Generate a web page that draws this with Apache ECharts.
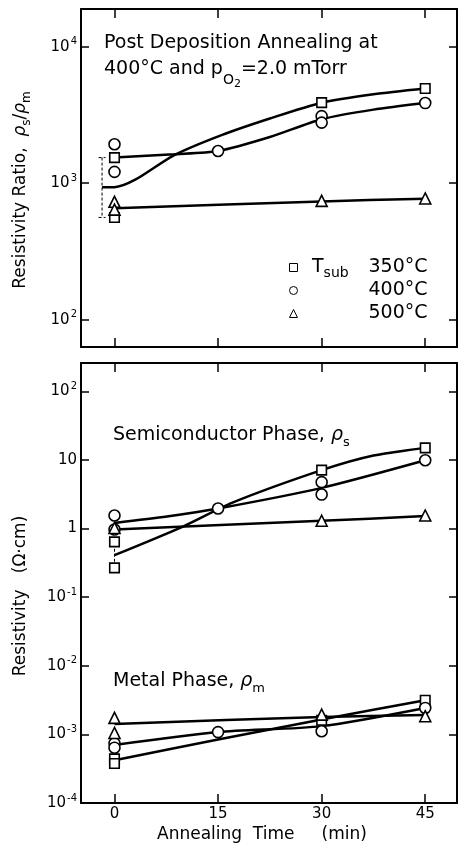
<!DOCTYPE html>
<html>
<head>
<meta charset="utf-8">
<script src="https://cdn.jsdelivr.net/npm/echarts@6/dist/echarts.min.js"></script>
<style>
  html, body { margin: 0; padding: 0; background: #fff; }
  #chart { width: 458px; height: 848px; }
</style>
</head>
<body>
<div id="chart"></div>
<script>
const FONT = '"DejaVu Sans", sans-serif'

// x ticks, annealing time in min
const timeTicks = [0, 15, 30, 45]

// top panel: resistivity ratio rho_s/rho_m, points as [time, ratio]
const ratio350 = [[0, 1540], [0, 561], [30, 3890], [45, 4940]]
const ratio400 = [[0, 1930], [0, 1210], [15, 1722], [30, 3100], [30, 2780], [45, 3865]]
const ratio500 = [[0, 730], [0, 640], [30, 742], [45, 773]]
// drawn curves
const ratio350Curve = [[-1.8, 935], [0, 935], [3, 1060], [8.6, 1600], [15.5, 2250], [22.5, 2980], [30, 3890], [37.5, 4480], [45, 4940]]
const ratio400Curve = [[0, 1540], [8.6, 1630], [15, 1722], [22.5, 2180], [30, 2940], [37.5, 3460], [45, 3865]]
const ratio500Curve = [[0, 655], [30, 735], [45, 770]]
// dashed spread bar of the 350 C points at t = 0
const ratioBar = [
  [[-2.3, 1540], [-1.3, 1540]],
  [[-1.8, 1540], [-1.8, 561]],
  [[-2.3, 561], [-1.3, 561]]
]

// bottom panel: semiconductor phase rho_s (ohm cm)
const semi350 = [[0, 0.64], [0, 0.267], [30, 7.1], [45, 15]]
const semi400 = [[0, 1.55], [0, 0.97], [15, 1.96], [30, 4.75], [30, 3.13], [45, 9.9]]
const semi500 = [[0, 1.02], [30, 1.3], [45, 1.55]]
const semi350Curve = [[0, 0.41], [10, 1.08], [17, 2.37], [30, 7.1], [37.5, 11.6], [45, 15]]
const semi400Curve = [[0, 1.21], [7.6, 1.5], [15, 1.96], [30, 3.92], [45, 9.9]]
const semi500Curve = [[0, 0.97], [30, 1.3], [45, 1.52]]
const semiBar = [[[0, 0.6], [0, 0.28]]]

// bottom panel: metal phase rho_m (ohm cm)
const metal350 = [[0, 4.4e-4], [0, 3.76e-4], [30, 1.61e-3], [45, 3.15e-3]]
const metal400 = [[0, 7.4e-4], [0, 6.4e-4], [15, 1.08e-3], [30, 1.11e-3], [45, 2.43e-3]]
const metal500 = [[0, 1.74e-3], [0, 1.05e-3], [30, 1.94e-3], [45, 1.84e-3]]
const metal350Curve = [[0, 4.2e-4], [15, 8.4e-4], [30, 1.65e-3], [45, 3.15e-3]]
const metal400Curve = [[0, 7.0e-4], [15, 1.08e-3], [30, 1.32e-3], [45, 2.43e-3]]
const metal500Curve = [[0, 1.42e-3], [30, 1.8e-3], [45, 1.92e-3]]

const tempNames = ['350°C', '400°C', '500°C']
const symbols = ['rect', 'circle', 'triangle']
const symbolSizes = [9.5, 11, 11]

const chart = echarts.init(document.getElementById('chart'))

const powRich = {
  b: { fontFamily: FONT, fontSize: 15, color: '#000' },
  s: { fontFamily: FONT, fontSize: 10, color: '#000', padding: [0, 0, 10, 1] }
}
const powLabel = v => {
  const e = Math.round(Math.log10(v))
  if (e === 0) return '{b|1}'
  if (e === 1) return '{b|10}'
  return '{b|10}{s|' + (e < 0 ? '-' + (-e) : e) + '}'
}

const black = { color: '#000', width: 2 }

const xAxisFor = (grid, position, showLabels) => ({
  type: 'value', gridIndex: grid, position: position,
  min: -4.85, max: 49.6,
  axisLine: { onZero: false, lineStyle: black },
  axisTick: { inside: true, length: 9, customValues: timeTicks, lineStyle: { color: '#000', width: 1.5 } },
  axisLabel: { show: showLabels, customValues: timeTicks, margin: 4, fontFamily: FONT, fontSize: 15, color: '#000' },
  splitLine: { show: false }
})

const yAxisFor = (grid, position, min, max, showLabels) => ({
  type: 'log', logBase: 10, gridIndex: grid, position: position,
  min: min, max: max,
  axisLine: { onZero: false, lineStyle: black },
  axisTick: { inside: true, length: 8, lineStyle: { color: '#000', width: 1.5 } },
  axisLabel: {
    show: showLabels, margin: 4, formatter: powLabel, rich: powRich,
    showMinLabel: grid === 1, showMaxLabel: false
  },
  splitLine: { show: false },
  minorTick: { show: false }
})

const points = (name, data, i, grid) => ({
  name: name, type: 'scatter', xAxisIndex: grid * 2, yAxisIndex: grid * 2,
  data: data, symbol: symbols[i], symbolSize: symbolSizes[i],
  itemStyle: { color: '#fff', borderColor: '#000', borderWidth: 1.6, opacity: 1 },
  z: 5
})

const curve = (data, grid) => ({
  type: 'line', xAxisIndex: grid * 2, yAxisIndex: grid * 2,
  data: data, smooth: 0.25, showSymbol: false, symbol: 'none',
  lineStyle: { color: '#000', width: 2.5 }, z: 3, silent: true
})

const dashed = (data, grid) => ({
  type: 'line', xAxisIndex: grid * 2, yAxisIndex: grid * 2,
  data: data, showSymbol: false, symbol: 'none',
  lineStyle: { color: '#000', width: 1, type: [3, 2] }, z: 2, silent: true
})

const series = []
const topPts = [ratio350, ratio400, ratio500]
const semiPts = [semi350, semi400, semi500]
const metalPts = [metal350, metal400, metal500]
tempNames.forEach((n, i) => {
  series.push(points(n, topPts[i], i, 0))
  series.push(points(n, semiPts[i], i, 1))
  series.push(points(n, metalPts[i], i, 1))
})
;[ratio350Curve, ratio400Curve, ratio500Curve].forEach(c => series.push(curve(c, 0)))
;[semi350Curve, semi400Curve, semi500Curve, metal350Curve, metal400Curve, metal500Curve].forEach(c => series.push(curve(c, 1)))
ratioBar.forEach(b => series.push(dashed(b, 0)))
semiBar.forEach(b => series.push(dashed(b, 1)))

const textEl = (x, y, rich, text, size, rotation) => ({
  type: 'text', x: x, y: y, rotation: rotation || 0, silent: true,
  style: {
    text: text, rich: rich, fontFamily: FONT, fontSize: size, fill: '#000',
    textAlign: rotation ? 'center' : 'left', align: rotation ? 'center' : 'left',
    textVerticalAlign: 'middle', verticalAlign: 'middle'
  }
})

const subRich = {
  a: { fontFamily: FONT, fontSize: 19, color: '#000' },
  g: { fontFamily: FONT, fontSize: 19, fontStyle: 'italic', color: '#000' },
  s: { fontFamily: FONT, fontSize: 13, color: '#000', padding: [16, 0, 0, 0] },
  o: { fontFamily: FONT, fontSize: 14, color: '#000', padding: [22, 0, 0, 0] },
  ss: { fontFamily: FONT, fontSize: 11, color: '#000', padding: [30, 0, 0, 0] }
}
const nameRich = {
  a: { fontFamily: FONT, fontSize: 17, color: '#000' },
  g: { fontFamily: FONT, fontSize: 17, fontStyle: 'italic', color: '#000' },
  s: { fontFamily: FONT, fontSize: 12, color: '#000', padding: [12, 0, 0, 0] }
}
const legendSubRich = {
  a: { fontFamily: FONT, fontSize: 19, color: '#000' },
  s: { fontFamily: FONT, fontSize: 14, color: '#000', padding: [12, 0, 0, 0] }
}

chart.setOption({
  animation: false,
  backgroundColor: '#fff',
  grid: [
    { left: 81, right: 1, top: 9, bottom: 501 },
    { left: 81, right: 1, top: 363, bottom: 45 }
  ],
  xAxis: [
    xAxisFor(0, 'bottom', false),
    xAxisFor(0, 'top', false),
    xAxisFor(1, 'bottom', true),
    xAxisFor(1, 'top', false)
  ],
  yAxis: [
    yAxisFor(0, 'left', 63, 18900, true),
    yAxisFor(0, 'right', 63, 18900, false),
    yAxisFor(1, 'left', 1e-4, 259, true),
    yAxisFor(1, 'right', 1e-4, 259, false)
  ],
  legend: {
    data: tempNames,
    orient: 'vertical', left: 289, top: 258, padding: 0,
    itemWidth: 8, itemHeight: 8, itemGap: 4,
    selectedMode: false,
    itemStyle: { borderWidth: 1 },
    formatter: '{v|{name}}',
    textStyle: {
      rich: {
        v: { width: 125, align: 'right', fontFamily: FONT, fontSize: 19, lineHeight: 20, color: '#000' }
      }
    }
  },
  graphic: [
    textEl(104, 43, null, 'Post Deposition Annealing at', 19),
    textEl(104, 69, subRich, '{a|400°C and p}{o|O}{ss|2}{a|=2.0 mTorr}', 19),
    textEl(312, 267, legendSubRich, '{a|T}{s|sub}', 19),
    textEl(113, 435, subRich, '{a|Semiconductor Phase, }{g|ρ}{s|s}', 19),
    textEl(113, 681, subRich, '{a|Metal Phase, }{g|ρ}{s|m}', 19),
    textEl(21, 190, nameRich, '{a|Resistivity Ratio,  }{g|ρ}{s|s}{a|/}{g|ρ}{s|m}', 17, Math.PI / 2),
    textEl(21, 596, nameRich, '{a|Resistivity   (Ω·cm)}', 17, Math.PI / 2),
    textEl(157, 835, null, 'Annealing  Time     (min)', 17)
  ],
  series: series
})
</script>
</body>
</html>
